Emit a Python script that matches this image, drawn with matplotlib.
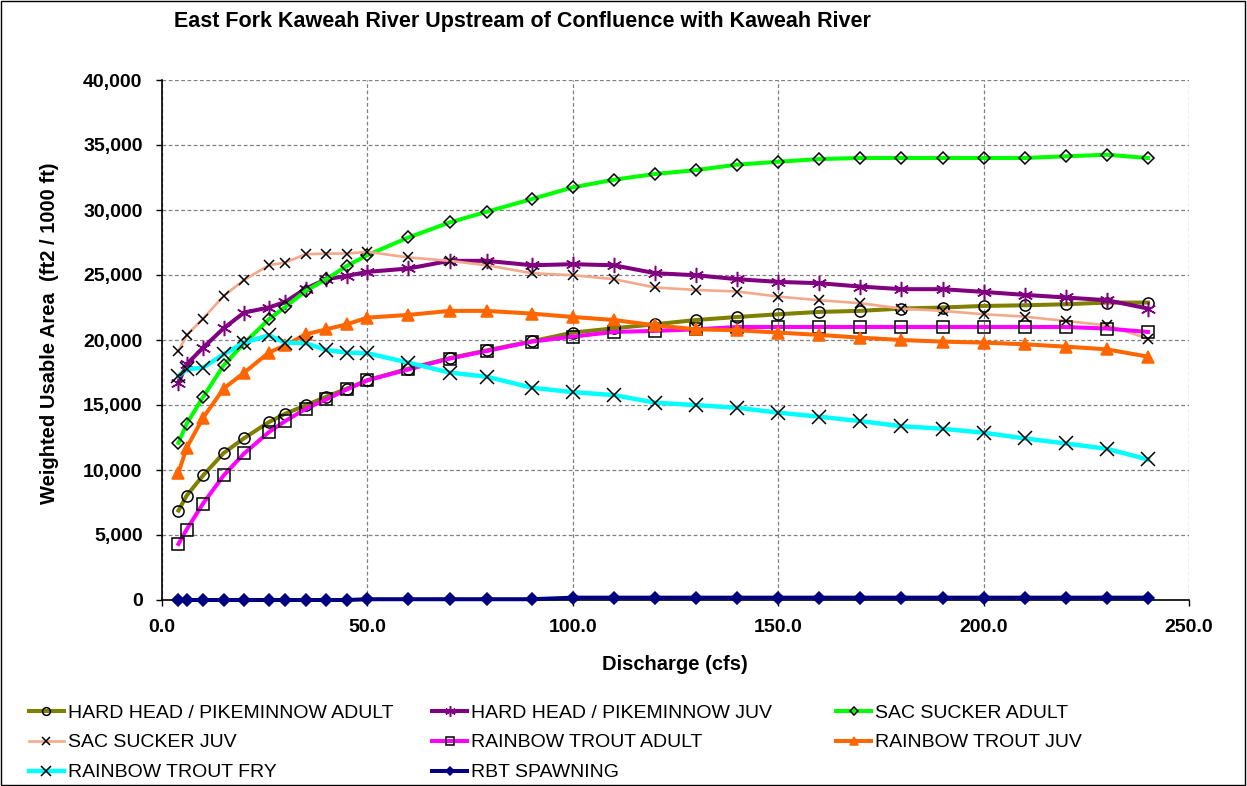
import matplotlib
matplotlib.use("Agg")
import matplotlib.pyplot as plt
from matplotlib.ticker import FuncFormatter, MultipleLocator
from matplotlib.patches import Rectangle

plt.rcParams['font.family'] = ['Liberation Sans', 'DejaVu Sans']

discharge = [4, 6, 10, 15, 20, 26, 30, 35, 40, 45, 50, 60, 70, 79, 90, 100, 110, 120, 130,
             140, 150, 160, 170, 180, 190, 200, 210, 220, 230, 240]

hh_adult = [6880, 8030, 9580, 11300, 12450, 13680, 14330, 14970, 15640, 16260, 16900, 17800,
            18600, 19200, 19900, 20570, 20900, 21210, 21540, 21770, 21980, 22160, 22240, 22420,
            22500, 22620, 22670, 22750, 22880, 22880]
hh_juv = [16720, 18130, 19410, 20900, 22110, 22500, 22930, 23960, 24680, 24930, 25240, 25500,
          26090, 26090, 25750, 25830, 25750, 25140, 24980, 24680, 24470, 24370, 24110, 23910,
          23910, 23700, 23470, 23270, 23060, 22420]
ss_adult = [12090, 13560, 15610, 18050, 19750, 21590, 22540, 23780, 24680, 25700, 26530, 27890,
            29040, 29860, 30840, 31740, 32330, 32770, 33070, 33490, 33710, 33920, 34000, 34000,
            34000, 34000, 34000, 34130, 34250, 34000]
ss_juv = [19150, 20360, 21650, 23390, 24620, 25750, 25960, 26600, 26650, 26650, 26780, 26350,
          26090, 25750, 25140, 24980, 24680, 24040, 23850, 23730, 23340, 23060, 22830, 22420,
          22240, 21980, 21800, 21460, 21130, 20110]
rt_adult = [4310, 5420, 7420, 9580, 11270, 12910, 13760, 14710, 15430, 16200, 16900, 17740,
            18570, 19150, 19875, 20260, 20620, 20700, 20820, 21000, 21000, 21000, 21000, 21000,
            21000, 21000, 21000, 21000, 20880, 20620]
rt_juv = [9780, 11710, 14020, 16260, 17490, 19030, 19590, 20440, 20820, 21210, 21720, 21930,
          22240, 22240, 22030, 21770, 21540, 21130, 20820, 20750, 20570, 20390, 20180, 20000,
          19875, 19800, 19670, 19490, 19280, 18720]
rt_fry = [17230, 17740, 17870, 18900, 19800, 20360, 19800, 19750, 19230, 19030, 18980, 18260,
          17490, 17180, 16330, 15990, 15760, 15180, 14990, 14790, 14410, 14100, 13760, 13370,
          13170, 12870, 12430, 12040, 11630, 10810]
rbt_spawn = [0, 0, 0, 0, 0, 0, 0, 0, 0, 0, 60, 60, 60, 60, 60, 180, 180, 180, 180, 180, 180,
             180, 180, 180, 180, 180, 180, 180, 180, 180]

labels = ["HARD HEAD / PIKEMINNOW ADULT", "HARD HEAD / PIKEMINNOW JUV", "SAC SUCKER ADULT",
          "SAC SUCKER JUV", "RAINBOW TROUT ADULT", "RAINBOW TROUT JUV", "RAINBOW TROUT FRY",
          "RBT SPAWNING"]

# color, linewidth, marker, marker size, face, edge
styles = [
    ("#808000", 2.9, "o", 8, "none", "black"),
    ("#800080", 2.9, (6, 2, 0), 11, "#800080", "#800080"),
    ("#00FF00", 2.9, "D", 6.5, "none", "black"),
    ("#F4A98C", 1.9, "x", 7.5, "black", "black"),
    ("#FF00FF", 2.9, "s", 8, "none", "black"),
    ("#FF6600", 2.9, "^", 9, "#FF6600", "#FF6600"),
    ("#00FFFF", 3.2, "x", 9.5, "black", "black"),
    ("#000080", 2.9, "D", 6, "#000080", "#000080"),
]

series = [hh_adult, hh_juv, ss_adult, ss_juv, rt_adult, rt_juv, rt_fry, rbt_spawn]

fig = plt.figure(figsize=(12.47, 7.86), dpi=100)
ax = fig.add_axes([162 / 1247, 1 - 600 / 786, (1189 - 162) / 1247, 520 / 786])

handles = []
for y, lab, st in zip(series, labels, styles):
    c, lw, m, ms, fc, ec = st
    ln, = ax.plot(discharge, y, color=c, lw=lw, marker=m, markersize=ms,
                  markerfacecolor=fc, markeredgecolor=ec, markeredgewidth=1.1,
                  label=lab, solid_joinstyle="round", clip_on=False)
    handles.append(ln)

ax.set_xlim(0, 250)
ax.set_ylim(0, 40000)
ax.xaxis.set_major_locator(MultipleLocator(50))
ax.yaxis.set_major_locator(MultipleLocator(5000))
ax.xaxis.set_major_formatter(FuncFormatter(lambda v, p: "{:.1f}".format(v)))
ax.yaxis.set_major_formatter(FuncFormatter(lambda v, p: "{:,.0f}".format(v)))
ax.tick_params(direction="out", length=4, width=1, pad=10, labelsize=14)
for t in ax.get_xticklabels() + ax.get_yticklabels():
    t.set_fontweight("bold")
ax.grid(True, color="#808080", linestyle=(0, (3, 2)), linewidth=0.9)
ax.set_axisbelow(True)
for s in ["top", "right"]:
    ax.spines[s].set_visible(False)
for s in ["left", "bottom"]:
    ax.spines[s].set_linewidth(1.2)
    ax.spines[s].set_zorder(1.5)

fig.text(522 / 1247, 1 - 22 / 786, "East Fork Kaweah River Upstream of Confluence with Kaweah River",
         ha="center", va="center", fontsize=15.5, fontweight="bold")
fig.text(50 / 1247, 1 - 333 / 786, "Weighted Usable Area  (ft2 / 1000 ft)", rotation=90,
         ha="center", va="center", fontsize=14.5, fontweight="bold")
fig.text(675 / 1247, 1 - 665 / 786, "Discharge (cfs)", ha="center", va="center",
         fontsize=14.5, fontweight="bold")

# legend laid out as three fixed columns like the original
cols = [[0, 3, 6], [1, 4, 7], [2, 5]]
col_x = [28.5, 432, 836]
for idx, x0 in zip(cols, col_x):
    fig.legend([handles[i] for i in idx], [labels[i] for i in idx], loc="upper left",
               bbox_to_anchor=(x0 / 1247, 1 - 704 / 786), frameon=False, fontsize=14,
               handlelength=1.8, handletextpad=0.22, labelspacing=0.63, borderpad=0,
               borderaxespad=0, numpoints=1, markerscale=0.7)

fig.add_artist(Rectangle((0.0005, 0.001), 0.998, 0.998, transform=fig.transFigure,
                         fill=False, edgecolor="black", linewidth=1))

fig.savefig("out.png", dpi=100)
